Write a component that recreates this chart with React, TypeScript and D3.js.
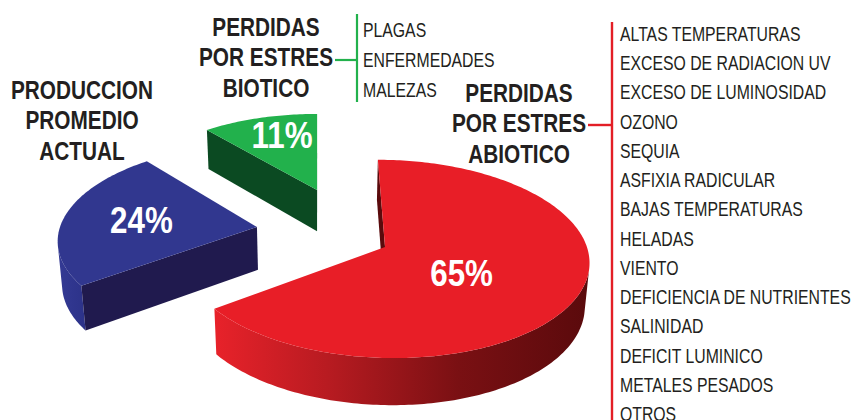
import React from 'react';
import * as d3 from 'd3';

// ---------- data ----------
const sliceNames = ['PERDIDAS POR ESTRES ABIOTICO', 'PRODUCCION PROMEDIO ACTUAL', 'PERDIDAS POR ESTRES BIOTICO'];
const sliceValues = [65, 24, 11];
const sliceLabels = ['65%', '24%', '11%'];
const titleLines = [
  ['PERDIDAS', 'POR ESTRES', 'ABIOTICO'],
  ['PRODUCCION', 'PROMEDIO', 'ACTUAL'],
  ['PERDIDAS', 'POR ESTRES', 'BIOTICO'],
];
const bioticCauses = ['PLAGAS', 'ENFERMEDADES', 'MALEZAS'];
const abioticCauses = [
  'ALTAS TEMPERATURAS',
  'EXCESO DE RADIACION UV',
  'EXCESO DE LUMINOSIDAD',
  'OZONO',
  'SEQUIA',
  'ASFIXIA RADICULAR',
  'BAJAS TEMPERATURAS',
  'HELADAS',
  'VIENTO',
  'DEFICIENCIA DE NUTRIENTES',
  'SALINIDAD',
  'DEFICIT LUMINICO',
  'METALES PESADOS',
  'OTROS',
];

// ---------- styles / layout ----------
const topColors = ['#e81e27', '#31378f', '#22b14c'];
const cutColors = ['#5a0a0c', '#201a4e', '#0b4a22'];
const W = 852;
const HGT = 420;
// camera
const D = 7.5;
const PHI = (30 * Math.PI) / 180;
const FOC = 1460;
const XC = 318;
const YC = 274;
const THICK = 0.25;
// explode offsets (world units)
const offsets: [number, number][] = [
  [0.332, 0.166],
  [-0.31, -0.044],
  [-0.005, -0.462],
];
const labelRadius = [0.44, 0.6, 0.73];
const labelTurn = [8.7, 0.3, 3.8];

const cphi = Math.cos(PHI);
const sphi = Math.sin(PHI);
function project(u: number, w: number, z: number): [number, number] {
  const dist = D - w * cphi - z * sphi;
  return [XC + (FOC * u) / dist, YC - (FOC * (z * cphi - w * sphi)) / dist];
}

const line = d3.line<[number, number]>().x((d) => d[0]).y((d) => d[1]);
const FONT = "'Liberation Sans', Arial, sans-serif";

function sample(a0: number, a1: number, n = 80): number[] {
  const out: number[] = [];
  const steps = Math.max(2, Math.ceil(((a1 - a0) / (2 * Math.PI)) * n));
  for (let i = 0; i <= steps; i++) out.push(a0 + ((a1 - a0) * i) / steps);
  return out;
}

type TextProps = {
  x: number;
  y: number;
  lines: string[];
  lh?: number;
  sx: number;
  anchor?: 'start' | 'middle' | 'end';
  style: React.CSSProperties;
};
function CText({ x, y, lines, lh = 0, sx, anchor = 'start', style }: TextProps) {
  return (
    <g transform={`translate(${x},${y}) scale(${sx},1)`}>
      <text textAnchor={anchor} style={style}>
        {lines.map((l, k) => (
          <tspan key={l + k} x={0} y={k * lh}>
            {l}
          </tspan>
        ))}
      </text>
    </g>
  );
}

export default function App() {
  const arcs = d3.pie<number>().sort(null).value((d) => d)(sliceValues);
  const order = d3.range(arcs.length).sort((a, b) => offsets[a][1] - offsets[b][1]);

  const slices = order.map((i) => {
    const a = arcs[i];
    const [ou, ow] = offsets[i];
    const pt = (t: number, z: number) => project(ou + Math.sin(t), ow - Math.cos(t), z);
    const faces: { d: string; fill: string; key: string }[] = [];
    const ts = sample(a.startAngle, a.endAngle, 360);
    const vis = (t: number) => {
      const pu = ou + Math.sin(t);
      const pw = ow - Math.cos(t);
      return -pu * Math.sin(t) - (D * cphi - pw) * Math.cos(t) > 0;
    };
    let run: number[] = [];
    const runs: number[][] = [];
    ts.forEach((t) => {
      if (vis(t)) run.push(t);
      else if (run.length) {
        runs.push(run);
        run = [];
      }
    });
    if (run.length) runs.push(run);
    runs.forEach((r, k) => {
      if (r.length < 2) return;
      const pts = [...r.map((t) => pt(t, THICK)), ...r.slice().reverse().map((t) => pt(t, 0))];
      faces.push({ d: line(pts) + 'Z', fill: `url(#side${i})`, key: `side${k}` });
    });
    const apexT = project(ou, ow, THICK);
    const apexB = project(ou, ow, 0);
    const cut = (t: number, sign: number, key: string) => {
      const nu = sign * Math.cos(t);
      const nw = sign * Math.sin(t);
      const dot = -ou * nu + (D * cphi - ow) * nw;
      if (dot <= 0) return;
      const pts = [apexT, pt(t, THICK), pt(t, 0), apexB];
      faces.push({ d: line(pts) + 'Z', fill: cutColors[i], key });
    };
    cut(a.startAngle, -1, 'cutS');
    cut(a.endAngle, 1, 'cutE');
    const topPts = [apexT, ...sample(a.startAngle, a.endAngle, 360).map((t) => pt(t, THICK))];
    faces.push({ d: line(topPts) + 'Z', fill: topColors[i], key: 'top' });
    const mid = (a.startAngle + a.endAngle) / 2 + (labelTurn[i] * Math.PI) / 180;
    const lp = project(ou + labelRadius[i] * Math.sin(mid), ow - labelRadius[i] * Math.cos(mid), THICK);
    return { i, faces, lp };
  });

  const bold: React.CSSProperties = { fontFamily: FONT, fontWeight: 700, fontSize: 26, fill: '#231f20' };
  const reg: React.CSSProperties = { fontFamily: FONT, fontWeight: 400, fontSize: 19.5, fill: '#231f20' };
  const pct: React.CSSProperties = { fontFamily: FONT, fontWeight: 700, fontSize: 36, fill: '#ffffff' };

  return (
    <svg width={W} height={HGT} style={{ position: 'absolute', left: 0, top: 0, background: '#fff' }}>
      <defs>
        <linearGradient id="side0" x1="0" x2="1" y1="0" y2="0">
          <stop offset="0" stopColor="#e8222a" />
          <stop offset="0.3" stopColor="#b81b21" />
          <stop offset="0.65" stopColor="#7a1013" />
          <stop offset="1" stopColor="#5a0a0c" />
        </linearGradient>
        <linearGradient id="side1" x1="0" x2="1" y1="0" y2="0">
          <stop offset="0" stopColor="#343a94" />
          <stop offset="1" stopColor="#2c3289" />
        </linearGradient>
        <linearGradient id="side2" x1="0" x2="1" y1="0" y2="0">
          <stop offset="0" stopColor="#1a8a3c" />
          <stop offset="1" stopColor="#0b4a22" />
        </linearGradient>
      </defs>
      {slices.map((s) => (
        <g key={sliceNames[s.i]}>
          {s.faces.map((f) => (
            <path key={f.key} d={f.d} fill={f.fill} />
          ))}
        </g>
      ))}
      {slices.map((s) => (
        <CText key={'lab' + s.i} x={s.lp[0]} y={s.lp[1] + 13} lines={[sliceLabels[s.i]]} sx={0.87} anchor="middle" style={pct} />
      ))}
      {/* titles */}
      <CText x={82} y={99} lines={titleLines[1]} lh={30.5} sx={0.8} anchor="middle" style={bold} />
      <CText x={266} y={36} lines={titleLines[2]} lh={30.5} sx={0.8} anchor="middle" style={bold} />
      <CText x={519} y={102} lines={titleLines[0]} lh={30.5} sx={0.8} anchor="middle" style={bold} />
      {/* biotic bracket */}
      <g stroke="#22b14c" strokeWidth={2.2} fill="none">
        <line x1={335} x2={357} y1={60} y2={60} />
        <line x1={357} x2={357} y1={14} y2={102} />
      </g>
      <CText x={363} y={37} lines={bioticCauses} lh={30} sx={0.81} style={reg} />
      {/* abiotic bracket */}
      <g stroke="#e31e26" strokeWidth={2.4} fill="none">
        <line x1={588} x2={612} y1={125} y2={125} />
        <line x1={612} x2={612} y1={22} y2={420} />
      </g>
      <CText x={620} y={41} lines={abioticCauses} lh={29.25} sx={0.81} style={reg} />
    </svg>
  );
}
